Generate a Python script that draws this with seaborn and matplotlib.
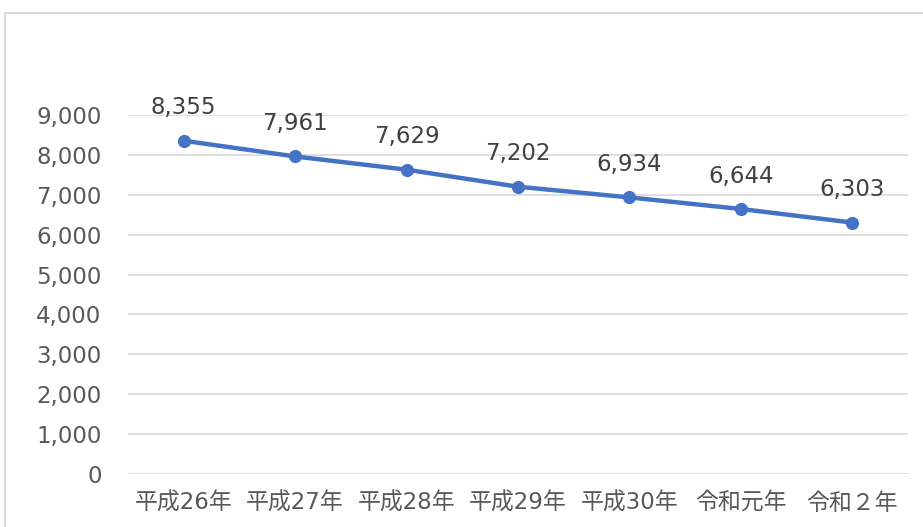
import seaborn as sns
import pandas as pd
import matplotlib.pyplot as plt
from matplotlib.patches import Rectangle
from matplotlib.ticker import FuncFormatter

years = ["平成26年", "平成27年", "平成28年", "平成29年", "平成30年", "令和元年", "令和２年"]
counts = [8355, 7961, 7629, 7202, 6934, 6644, 6303]

df = pd.DataFrame({"year": years, "count": counts})

sns.set_theme(style="white")
plt.rcParams["font.family"] = ["DejaVu Sans", "Noto Sans CJK JP"]

fig = plt.figure(figsize=(9.23, 5.27), dpi=100)
ax = fig.add_axes([128 / 923, 1 - 474 / 527, (908 - 128) / 923, (474 - 115) / 527])

# chart frame (cropped: only left and top edges visible)
fig.patches.append(Rectangle((5 / 923, -0.2), 2.0, 1.2 - 13 / 527, transform=fig.transFigure,
                             fill=False, edgecolor="#d9d9d9", linewidth=1.5))

blue = "#4472C4"
sns.lineplot(data=df, x="year", y="count", ax=ax, color=blue, linewidth=3.2,
             marker="o", markersize=9.5, markeredgewidth=0, sort=False)

for i, v in enumerate(counts):
    ax.annotate(f"{v:,}", (i, v), xytext=(0, 19), textcoords="offset points",
                ha="center", va="baseline", fontsize=16.5, color="#404040")

ax.set_ylim(0, 9000)
ax.set_xlim(-0.5, 6.5)
ax.set_yticks(range(0, 9001, 1000))
ax.yaxis.set_major_formatter(FuncFormatter(lambda v, p: f"{int(v):,}"))
ax.grid(axis="y", color="#d9d9d9", linewidth=1.2)
ax.set_axisbelow(True)
for s in ax.spines.values():
    s.set_visible(False)
ax.tick_params(axis="y", length=0, pad=19, labelsize=16.5, labelcolor="#595959")
ax.tick_params(axis="x", length=0, pad=13, labelsize=16.5, labelcolor="#595959")
ax.set_xlabel("")
ax.set_ylabel("")

fig.savefig("out.png", dpi=100, facecolor="white")
